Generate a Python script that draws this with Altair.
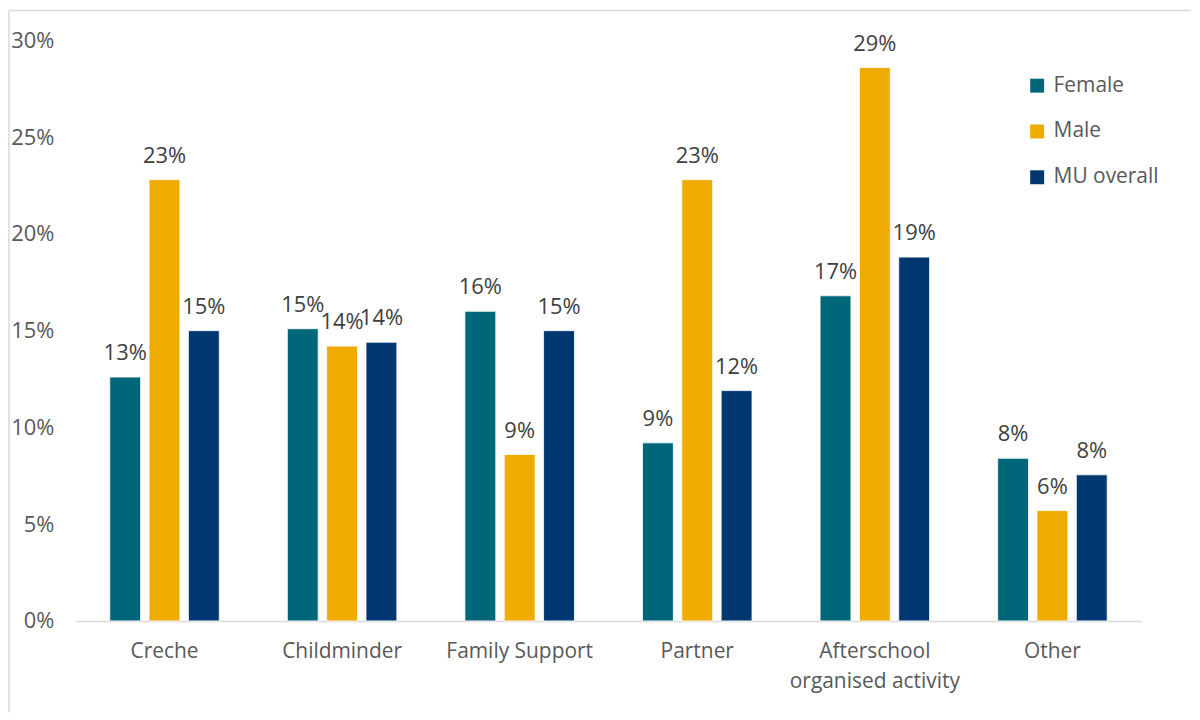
import altair as alt
import pandas as pd

categories = ["Creche", "Childminder", "Family Support", "Partner",
              "Afterschool organised activity", "Other"]
series = ["Female", "Male", "MU overall"]
female = [0.126, 0.151, 0.160, 0.092, 0.168, 0.084]
male = [0.228, 0.142, 0.086, 0.228, 0.286, 0.057]
mu_overall = [0.150, 0.144, 0.150, 0.119, 0.188, 0.0755]
colors = ["#00677A", "#F0AB00", "#003770"]

rows = []
for i, c in enumerate(categories):
    for s, vals in zip(series, [female, male, mu_overall]):
        rows.append({"category": c, "series": s, "value": vals[i]})
df = pd.DataFrame(rows)

FONT = "Open Sans"

x_enc = alt.X(
    "category:N", sort=categories, title=None,
    scale=alt.Scale(paddingInner=0, paddingOuter=0),
    axis=alt.Axis(
        labelAngle=0, ticks=False, labelPadding=20, labelFontSize=21,
        labelColor="#595959", labelFont=FONT, domainColor="#d9d9d9",
        domainWidth=1.5, labelBaseline="top", labelLineHeight=30,
        labelExpr="datum.value == 'Afterschool organised activity' ? ['Afterschool', 'organised activity'] : datum.value",
    ),
)
y_enc = alt.Y(
    "value:Q", title=None,
    scale=alt.Scale(domain=[0, 0.30], nice=False),
    axis=alt.Axis(
        format=".0%", values=[0, 0.05, 0.10, 0.15, 0.20, 0.25, 0.30],
        grid=False, ticks=False, domain=False, labelPadding=22,
        labelFontSize=22, labelColor="#595959", labelFont=FONT,
    ),
)
xoff = alt.XOffset("series:N", sort=series,
                   scale=alt.Scale(paddingInner=0.215, paddingOuter=0.865))

base = alt.Chart(df)

bars = base.mark_bar(stroke="#ffffff", strokeWidth=0.8).encode(
    x=x_enc, y=y_enc, xOffset=xoff,
    color=alt.Color(
        "series:N", sort=series,
        scale=alt.Scale(domain=series, range=colors),
        legend=alt.Legend(
            title=None, orient="none", legendX=955, legendY=35,
            symbolType="square", symbolSize=196, symbolStrokeWidth=0,
            labelFontSize=21, labelColor="#595959", labelFont=FONT,
            rowPadding=24, labelOffset=6,
        ),
    ),
)

labels = base.mark_text(
    baseline="bottom", dy=-12, fontSize=22, color="#404040", font=FONT
).encode(
    x=alt.X("category:N", sort=categories),
    y="value:Q",
    xOffset=alt.XOffset("series:N", sort=series),
    text=alt.Text("value:Q", format=".0%"),
)

frame_df = pd.DataFrame({"k": [0]})
frame_top = alt.Chart(frame_df).mark_rule(color="#d9d9d9", strokeWidth=1.5).encode(
    x=alt.value(-67), x2=alt.value(1120), y=alt.value(-30)
)
frame_left = alt.Chart(frame_df).mark_rule(color="#d9d9d9", strokeWidth=1.5).encode(
    x=alt.value(-67), y=alt.value(-30), y2=alt.value(675)
)

chart = alt.layer(bars, labels, frame_top, frame_left).properties(
    width=1070, height=583,
    padding={"left": 0, "top": 0, "right": 0, "bottom": 0},
).configure(font=FONT).configure_view(stroke=None, strokeWidth=0)

chart.save("out.html", embed_options={"renderer": "svg", "actions": False})
